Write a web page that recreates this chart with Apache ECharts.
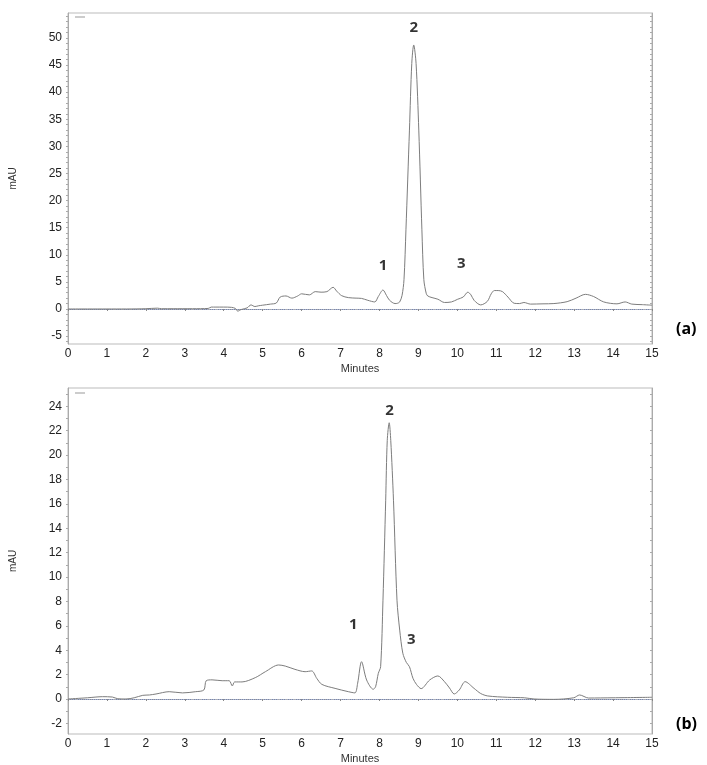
<!DOCTYPE html>
<html>
<head>
<meta charset="utf-8">
<title>Chromatograms (a) and (b)</title>
<script src="https://cdn.jsdelivr.net/npm/echarts@6/dist/echarts.min.js"></script>
<style>
  html, body { margin: 0; padding: 0; background: #fff; }
  #chart { width: 707px; height: 765px; }
</style>
</head>
<body>
<div id="chart"></div>
<script>
// 色谱图 (a) 的数据: 时间 (min) 和 吸光度 (mAU)
var timeA = [0, 0.5, 1, 1.5, 2, 2.3, 2.4, 2.7, 3.2, 3.6, 3.68, 3.8, 4.0, 4.2, 4.3, 4.36, 4.45, 4.6, 4.7, 4.8, 4.9, 5.0, 5.2, 5.35, 5.45, 5.6, 5.75, 5.9, 6.0, 6.2, 6.35, 6.5, 6.65, 6.81, 6.9, 7.03, 7.2, 7.4, 7.54, 7.7, 7.88, 7.97, 8.09, 8.18, 8.26, 8.4, 8.46, 8.52, 8.58, 8.63, 8.68, 8.77, 8.83, 8.88, 8.94, 9.01, 9.09, 9.14, 9.2, 9.24, 9.35, 9.5, 9.67, 9.85, 10.01, 10.15, 10.27, 10.35, 10.43, 10.6, 10.77, 10.87, 10.95, 11.05, 11.16, 11.3, 11.46, 11.6, 11.71, 11.88, 12.2, 12.48, 12.82, 13.05, 13.29, 13.5, 13.76, 14.1, 14.31, 14.48, 14.75, 15];
var valueA = [0, 0, 0, 0, 0.05, 0.15, 0.05, 0.05, 0.05, 0.1, 0.35, 0.35, 0.35, 0.3, 0.1, -0.4, -0.1, 0.2, 0.75, 0.45, 0.6, 0.7, 0.9, 1.1, 2.2, 2.4, 2.0, 2.4, 2.8, 2.6, 3.2, 3.1, 3.2, 4.0, 3.3, 2.45, 2.1, 2.0, 1.95, 1.6, 1.3, 2.3, 3.5, 2.5, 1.6, 1.0, 1.05, 1.3, 2.5, 5.4, 14.6, 33, 45.3, 48.7, 45.3, 33, 14.6, 5.4, 2.9, 2.4, 2.1, 1.8, 1.2, 1.3, 1.8, 2.2, 3.1, 2.6, 1.6, 0.75, 1.4, 2.8, 3.4, 3.4, 3.2, 2.2, 1.05, 1.0, 1.2, 0.9, 0.95, 1.0, 1.35, 2.0, 2.7, 2.3, 1.3, 0.95, 1.3, 0.9, 0.8, 0.7];

// 色谱图 (b) 的数据
var timeB = [0, 0.5, 0.89, 1.14, 1.28, 1.49, 1.7, 1.92, 2.09, 2.26, 2.6, 2.94, 3.28, 3.49, 3.55, 3.7, 3.96, 4.14, 4.22, 4.28, 4.47, 4.81, 5.07, 5.41, 5.58, 5.83, 6.09, 6.26, 6.39, 6.52, 6.86, 7.2, 7.37, 7.44, 7.54, 7.67, 7.84, 7.9, 7.97, 8.03, 8.09, 8.16, 8.2, 8.25, 8.29, 8.36, 8.45, 8.52, 8.6, 8.69, 8.77, 8.86, 8.95, 9.07, 9.29, 9.5, 9.67, 9.8, 9.92, 10.05, 10.2, 10.43, 10.6, 10.78, 11.29, 11.72, 11.97, 12.48, 12.99, 13.14, 13.37, 14, 15];
var valueB = [0, 0.1, 0.19, 0.16, 0.02, 0, 0.1, 0.3, 0.33, 0.41, 0.6, 0.5, 0.6, 0.74, 1.5, 1.57, 1.5, 1.5, 1.07, 1.4, 1.4, 1.75, 2.24, 2.79, 2.7, 2.43, 2.24, 2.3, 1.69, 1.2, 0.87, 0.6, 0.5, 1.3, 3.06, 1.56, 0.8, 1.0, 2.1, 2.65, 8.1, 16.3, 21.2, 22.65, 21.2, 16.3, 8.1, 5.65, 3.75, 3.0, 2.65, 1.7, 1.2, 0.85, 1.56, 1.89, 1.42, 0.9, 0.41, 0.74, 1.42, 0.87, 0.45, 0.25, 0.14, 0.1, 0.0, -0.03, 0.1, 0.33, 0.08, 0.1, 0.14];

// 坐标轴刻度
var xTicks = [0, 1, 2, 3, 4, 5, 6, 7, 8, 9, 10, 11, 12, 13, 14, 15];
var yTicksA = [-5, 0, 5, 10, 15, 20, 25, 30, 35, 40, 45, 50];
var yTicksB = [-2, 0, 2, 4, 6, 8, 10, 12, 14, 16, 18, 20, 22, 24];
var yMinorA = [];
for (var i = -6; i <= 54; i++) yMinorA.push(i);
var yMinorB = [];
for (var j = -2; j <= 25; j++) yMinorB.push(j);

// 峰的编号 [名称, 时间, 高度]
var peaksA = [['1', 8.09, 7.9], ['2', 8.88, 51.8], ['3', 10.1, 8.4]];
var peaksB = [['1', 7.33, 6.1], ['2', 8.26, 23.6], ['3', 8.82, 4.9]];

function pairs(xs, ys) {
    var out = [];
    for (var k = 0; k < xs.length; k++) out.push([xs[k], ys[k]]);
    return out;
}

var chart = echarts.init(document.getElementById('chart'));
var fontTick = 'Liberation Sans, Arial, sans-serif';
var fontBold = 'Open Sans, Liberation Sans, sans-serif';

function xAxisOf(gridIndex) {
    return {
        type: 'value', gridIndex: gridIndex, min: 0, max: 15, interval: 1,
        name: 'Minutes', nameLocation: 'middle', nameGap: 19,
        nameTextStyle: { fontFamily: fontTick, fontSize: 11, color: '#333' },
        axisLine: { show: true, lineStyle: { color: '#7a86a8', width: 1, type: 'dotted' } },
        axisTick: { show: true, length: 2, lineStyle: { color: '#888' } },
        minorTick: { show: true, splitNumber: 5, length: 1, lineStyle: { color: '#aaa' } },
        axisLabel: { fontFamily: fontTick, fontSize: 12, color: '#222', margin: 4 },
        splitLine: { show: false }
    };
}

function yAxisOf(gridIndex, min, max, ticks, minor) {
    return {
        type: 'value', gridIndex: gridIndex, min: min, max: max,
        name: 'mAU', nameLocation: 'middle', nameGap: 50,
        nameTextStyle: { fontFamily: fontTick, fontSize: 10, color: '#333' },
        axisLine: { show: true, lineStyle: { color: '#aaa', width: 1 } },
        axisTick: { show: true, length: 2, customValues: minor, lineStyle: { color: '#aaa' } },
        axisLabel: { fontFamily: fontTick, fontSize: 12, color: '#222', margin: 6, customValues: ticks },
        splitLine: { show: false }
    };
}

function rightAxisOf(gridIndex, min, max, minor) {
    return {
        type: 'value', gridIndex: gridIndex, min: min, max: max, position: 'right',
        axisLine: { show: true, lineStyle: { color: '#aaa', width: 1 } },
        axisTick: { show: true, inside: true, length: 2, customValues: minor, lineStyle: { color: '#aaa' } },
        axisLabel: { show: false },
        splitLine: { show: false }
    };
}

function peakLabels(list, xi, yi) {
    return {
        type: 'scatter', xAxisIndex: xi, yAxisIndex: yi, symbolSize: 0, silent: true,
        data: list.map(function (p) { return { value: [p[1], p[2]], name: p[0] }; }),
        label: {
            show: true, position: 'inside', formatter: '{b}',
            fontFamily: fontBold, fontWeight: 'bold', fontSize: 15, color: '#000'
        }
    };
}

var option = {
    animation: false,
    backgroundColor: '#fff',
    grid: [
        { left: 65, top: 13, width: 587, height: 331, show: true, borderColor: '#bbb', borderWidth: 1 },
        { left: 65, top: 388, width: 587, height: 346, show: true, borderColor: '#bbb', borderWidth: 1 }
    ],
    xAxis: [xAxisOf(0), xAxisOf(1)],
    yAxis: [
        yAxisOf(0, -6.46, 54.6, yTicksA, yMinorA),
        yAxisOf(1, -2.87, 25.5, yTicksB, yMinorB),
        rightAxisOf(0, -6.46, 54.6, yMinorA),
        rightAxisOf(1, -2.87, 25.5, yMinorB)
    ],
    series: [
        {
            type: 'line', xAxisIndex: 0, yAxisIndex: 0, data: pairs(timeA, valueA),
            showSymbol: false, smooth: 0.3, lineStyle: { color: '#7d7d7d', width: 1 }
        },
        {
            type: 'line', xAxisIndex: 1, yAxisIndex: 1, data: pairs(timeB, valueB),
            showSymbol: false, smooth: 0.3, lineStyle: { color: '#7d7d7d', width: 1 }
        },
        peakLabels(peaksA, 0, 0),
        peakLabels(peaksB, 1, 1)
    ],
    graphic: [
        { type: 'line', shape: { x1: 75, y1: 17, x2: 85, y2: 17 }, style: { stroke: '#999', lineWidth: 1 } },
        { type: 'line', shape: { x1: 75, y1: 393, x2: 85, y2: 393 }, style: { stroke: '#999', lineWidth: 1 } },
        { type: 'text', left: 676, top: 321, style: { text: '(a)', font: 'bold 16px Open Sans, Liberation Sans, sans-serif', fill: '#000' } },
        { type: 'text', left: 676, top: 716, style: { text: '(b)', font: 'bold 16px Open Sans, Liberation Sans, sans-serif', fill: '#000' } }
    ]
};
chart.setOption(option);
</script>
</body>
</html>
